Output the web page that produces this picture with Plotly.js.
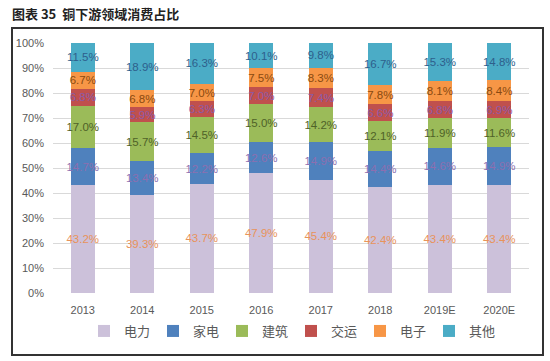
<!DOCTYPE html>
<html>
<head>
<meta charset="utf-8">
<script src="https://cdn.plot.ly/plotly-3.0.1.min.js"></script>
<style>
html,body{margin:0;padding:0;background:#fff;}
#chart{width:550px;height:361px;}
</style>
</head>
<body>
<div id="chart"></div>
<script>
var years = ["2013","2014","2015","2016","2017","2018","2019E","2020E"];
var seriesNames = ["电力","家电","建筑","交运","电子","其他"];
var power = [43.2,39.3,43.7,47.9,45.4,42.4,43.4,43.4];
var appliance = [14.7,13.4,12.2,12.6,14.9,14.4,14.6,14.9];
var construction = [17.0,15.7,14.5,15.0,14.2,12.1,11.9,11.6];
var transport = [6.8,5.9,6.3,7.0,7.4,6.6,6.8,6.9];
var electronics = [6.7,6.8,7.0,7.5,8.3,7.8,8.1,8.4];
var other = [11.5,18.9,16.3,10.1,9.8,16.7,15.3,14.8];
var yTicks = [0,10,20,30,40,50,60,70,80,90,100];

var values = [power, appliance, construction, transport, electronics, other];
var barColors = ["#CCC1DA","#4F81BD","#9BBB59","#C0504D","#F79646","#4BACC6"];
var textColors = ["#E8935A","#8C6FB0","#4F6228","#8B5AA8","#8A4A10","#2E5F8C"];

var traces = values.map(function(v,i){
  return {
    type:"bar",
    name:seriesNames[i],
    x:years,
    y:v,
    text:v.map(function(d){return d.toFixed(1)+"%";}),
    texttemplate:"%{text}",
    textposition:"inside",
    insidetextanchor:"middle",
    constraintext:"none",
    textangle:0,
    cliponaxis:false,
    textfont:{family:"Liberation Sans, Arial, sans-serif",size:11.5,color:textColors[i]},
    marker:{color:barColors[i],line:{width:0}},
    hoverinfo:"skip"
  };
});

var layout = {
  width:550,height:361,
  margin:{l:53,r:21,t:43,b:68},
  paper_bgcolor:"#fff",plot_bgcolor:"#fff",
  barmode:"stack",
  barnorm:"percent",
  bargap:0.6,
  showlegend:true,
  title:{text:"<b>图表 35  铜下游领域消费占比</b>",x:12/550,xanchor:"left",xref:"container",
         y:1-14/361,yanchor:"middle",yref:"container",
         font:{family:"Noto Sans CJK SC",size:13,color:"#222"}},
  xaxis:{type:"category",showgrid:false,zeroline:false,showline:false,ticks:"",
         ticklabelstandoff:9,
         tickfont:{family:"Liberation Sans, Arial, sans-serif",size:11,color:"#595959"}},
  yaxis:{range:[0,100],tickvals:yTicks,ticktext:yTicks.map(function(t){return t+"%";}),
         showgrid:true,gridcolor:"#D9D9D9",gridwidth:1,zeroline:false,showline:false,ticks:"",
         ticklen:0,ticklabelstandoff:8,
         tickfont:{family:"Liberation Sans, Arial, sans-serif",size:11,color:"#595959"}},
  legend:{orientation:"h",x:0.5,xanchor:"center",y:-0.152,yanchor:"middle",
          entrywidth:24,entrywidthmode:"pixels",traceorder:"normal",
          itemclick:false,itemwidth:30,
          font:{family:"Noto Sans CJK SC",size:13,color:"#595959"}},
  shapes:[{type:"rect",xref:"paper",yref:"paper",
           x0:(12-53)/476,x1:(543-53)/476,y0:(293-355)/250,y1:(293-28)/250,
           line:{color:"#333",width:2},fillcolor:"rgba(0,0,0,0)",layer:"below"}]
};

Plotly.newPlot("chart",traces,layout,{displayModeBar:false,staticPlot:true});
</script>
</body>
</html>
